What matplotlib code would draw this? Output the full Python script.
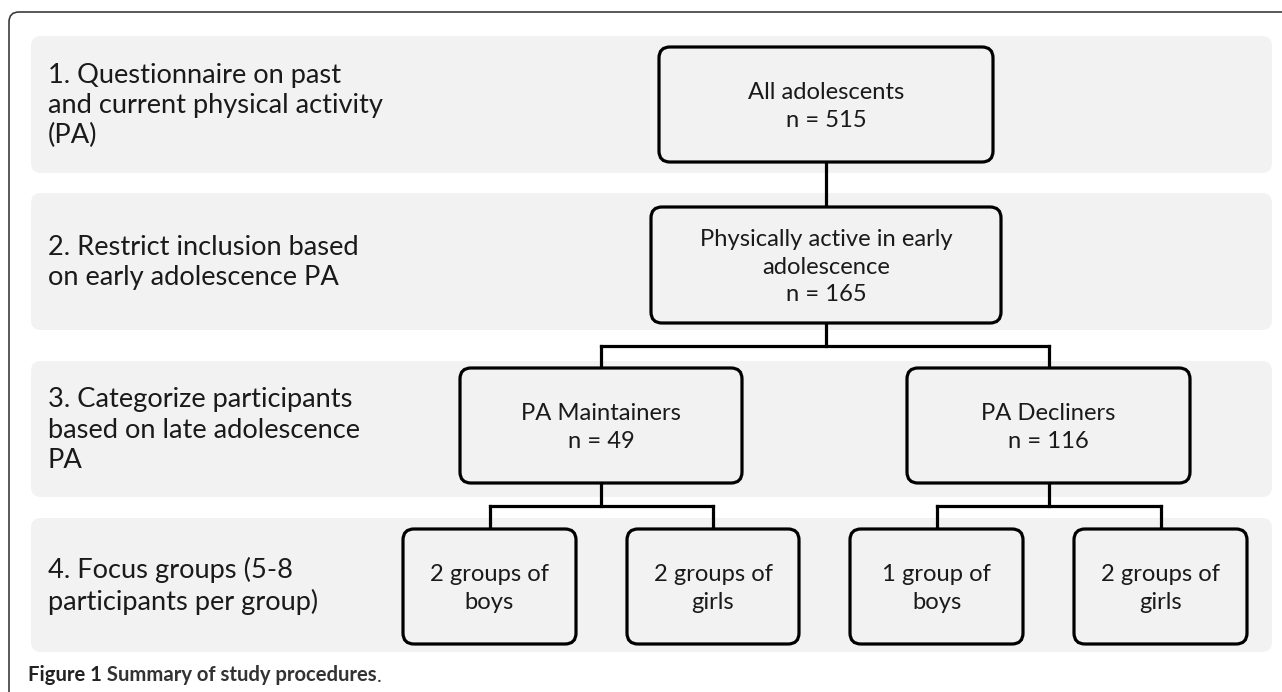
import matplotlib
matplotlib.use("Agg")
import matplotlib.pyplot as plt
from matplotlib.patches import FancyBboxPatch

# stage descriptions (left column)
stage_labels = [
    "1. Questionnaire on past\nand current physical activity\n(PA)",
    "2. Restrict inclusion based\non early adolescence PA",
    "3. Categorize participants\nbased on late adolescence\nPA",
    "4. Focus groups (5-8\nparticipants per group)",
]

# flowchart nodes
top_name, top_n = "All adolescents", 515
active_name, active_n = "Physically active in early\nadolescence", 165
group_names = ["PA Maintainers", "PA Decliners"]
group_n = [49, 116]
focus_groups = ["2 groups of\nboys", "2 groups of\ngirls", "1 group of\nboys", "2 groups of\ngirls"]

caption_bold = "Figure 1"
caption_text = " Summary of study procedures"

# layout (pixels, y down)
W, H = 1282, 692
band_x0, band_x1 = 31, 1272
band_top = [36, 193, 361, 518]
band_bot = [173, 330, 497, 652]
box_top = [47, 207, 368, 529]
box_bot = [162, 323, 483, 644]
box1_x = (659, 993)
box2_x = (651, 1001)
box3_x = [(460, 742), (907, 1190)]
box4_x = [(403, 576), (627, 799), (850, 1023), (1074, 1247)]
bar_y = [346, 506]

FONT = "Lato"
band_color = "#f2f2f2"
lw = 2.3

fig = plt.figure(figsize=(W / 100, H / 100), dpi=100)
ax = fig.add_axes([0, 0, 1, 1])
ax.set_xlim(0, W)
ax.set_ylim(H, 0)
ax.axis("off")

# outer frame (only left/top visible)
ax.add_patch(FancyBboxPatch((9, 12), 1500, 900, boxstyle="round,pad=0,rounding_size=10",
                            facecolor="none", edgecolor="#3c3c3c", lw=1.2))

# grey bands + stage labels
for i, lab in enumerate(stage_labels):
    ax.add_patch(FancyBboxPatch((band_x0, band_top[i]), band_x1 - band_x0, band_bot[i] - band_top[i],
                                boxstyle="round,pad=0,rounding_size=10",
                                facecolor=band_color, edgecolor="none"))
    ax.text(48, (band_top[i] + band_bot[i]) / 2 + 1, lab, ha="left", va="center",
            fontsize=19.6, family=FONT, color="#1a1a1a", linespacing=1.27)


def node(x0, x1, level, txt):
    y0, y1 = box_top[level], box_bot[level]
    ax.add_patch(FancyBboxPatch((x0, y0), x1 - x0, y1 - y0,
                                boxstyle="round,pad=0,rounding_size=11",
                                facecolor=band_color, edgecolor="black", lw=lw, zorder=3))
    ax.text((x0 + x1) / 2, (y0 + y1) / 2 + 2, txt, ha="center", va="center",
            fontsize=17.1, family=FONT, color="#1a1a1a", linespacing=1.37, zorder=4)


def line(xs, ys):
    ax.plot(xs, ys, color="black", lw=lw, solid_capstyle="projecting", zorder=2)


node(*box1_x, 0, f"{top_name}\nn = {top_n}")
node(*box2_x, 1, f"{active_name}\nn = {active_n}")
for (x0, x1), name, n in zip(box3_x, group_names, group_n):
    node(x0, x1, 2, f"{name}\nn = {n}")
for (x0, x1), name in zip(box4_x, focus_groups):
    node(x0, x1, 3, name)

# connectors
cx1 = sum(box1_x) / 2
line([cx1, cx1], [box_bot[0], box_top[1]])
c3 = [sum(b) / 2 for b in box3_x]
line([cx1, cx1], [box_bot[1], bar_y[0]])
line([c3[0], c3[1]], [bar_y[0], bar_y[0]])
for c in c3:
    line([c, c], [bar_y[0], box_top[2]])
c4 = [sum(b) / 2 for b in box4_x]
for k, c in enumerate(c3):
    line([c, c], [box_bot[2], bar_y[1]])
    line([c4[2 * k], c4[2 * k + 1]], [bar_y[1], bar_y[1]])
    for cc in c4[2 * k:2 * k + 2]:
        line([cc, cc], [bar_y[1], box_top[3]])

# caption
t1 = ax.text(28, 675, caption_bold, ha="left", va="center", fontsize=14.6,
             family=FONT, weight="bold", color="#222222")
t2 = ax.annotate(caption_text, xy=(1, 0), xycoords=t1, ha="left", va="bottom",
                 fontsize=14.6, family=FONT, weight="bold", color="#333333")
ax.annotate(".", xy=(1, 0), xycoords=t2, ha="left", va="bottom",
            fontsize=14.6, family=FONT, color="#333333")

fig.savefig("out.png", dpi=100)
